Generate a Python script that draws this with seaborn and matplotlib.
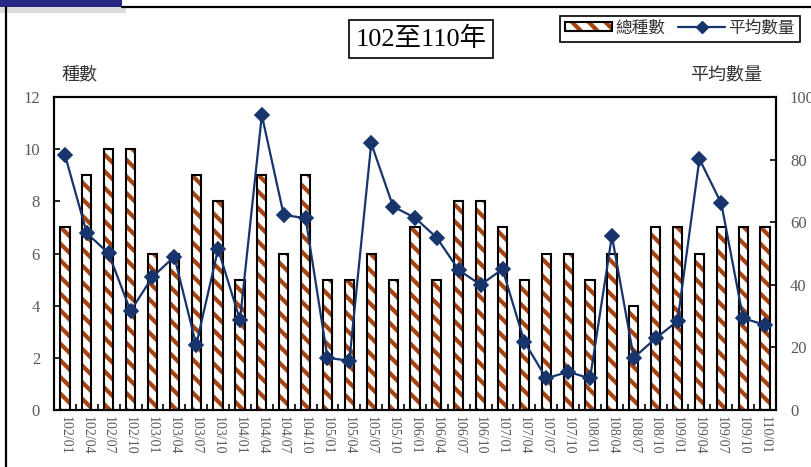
import numpy as np
import matplotlib.pyplot as plt
import seaborn as sns
from matplotlib.patches import Patch, Rectangle
from matplotlib.lines import Line2D
from matplotlib.legend_handler import HandlerTuple

# quarterly data, ROC years 102-110
quarters = ['102/01', '102/04', '102/07', '102/10',
            '103/01', '103/04', '103/07', '103/10',
            '104/01', '104/04', '104/07', '104/10',
            '105/01', '105/04', '105/07', '105/10',
            '106/01', '106/04', '106/07', '106/10',
            '107/01', '107/04', '107/07', '107/10',
            '108/01', '108/04', '108/07', '108/10',
            '109/01', '109/04', '109/07', '109/10',
            '110/01']
species_count = [7, 9, 10, 10, 6, 6, 9, 8, 5, 9, 6, 9, 5, 5, 6, 5, 7,
                 5, 8, 8, 7, 5, 6, 6, 5, 6, 4, 7, 7, 6, 7, 7, 7]
avg_quantity = [81.5, 56.5, 50.0, 31.6, 42.5, 49.0, 20.8, 51.4, 28.8,
                94.2, 62.3, 61.3, 16.7, 15.7, 85.2, 65.0, 61.4, 55.0,
                44.7, 40.0, 45.0, 21.8, 10.1, 12.2, 10.1, 55.6, 16.7,
                22.9, 28.4, 80.2, 66.0, 29.3, 27.2]

left_ticks = [0, 2, 4, 6, 8, 10, 12]
right_ticks = [0, 20, 40, 60, 80, 100]

sns.set_theme(style='white')
plt.rcParams['font.family'] = ['Liberation Serif', 'Noto Sans CJK TC']
plt.rcParams['hatch.linewidth'] = 3.0

BROWN = '#A8440F'
NAVY = '#17356C'
GRAY = '#595959'

fig = plt.figure(figsize=(8.12, 4.67), dpi=100)
ax = fig.add_axes([54 / 812, 1 - 410 / 467, 722 / 812, 313 / 467])

# hatched fill, then black outline on top
sns.barplot(x=quarters, y=species_count, color='white', edgecolor=BROWN,
            hatch='\\\\', linewidth=0, width=0.42, saturation=1, ax=ax)
sns.barplot(x=quarters, y=species_count, color='black', fill=False,
            linewidth=1.5, width=0.42, saturation=1, ax=ax)

ax2 = ax.twinx()
sns.pointplot(x=quarters, y=avg_quantity, color=NAVY, markers='D',
              markersize=7, linewidth=1.6, ax=ax2)

n = len(quarters)
ax.set_xlim(-0.5, n - 0.5)
ax.set_ylim(0, 12)
ax2.set_ylim(0, 100)
ax.set_xlabel('')
ax.set_ylabel('')
ax2.set_xlabel('')
ax2.set_ylabel('')

ax.set_yticks(left_ticks)
ax.set_yticklabels([str(t) for t in left_ticks], fontsize=12, color=GRAY)
ax.tick_params(axis='y', length=4, width=1.2, color='black', direction='in', pad=10)
ax2.set_yticks(right_ticks)
ax2.set_yticklabels([str(t) for t in right_ticks], fontsize=12, color=GRAY)
ax2.tick_params(axis='y', length=4, width=1.2, color='black', direction='in', pad=10)

ax.set_xticks(range(n))
ax.set_xticklabels(quarters, rotation=-90, fontsize=10, color=GRAY)
ax.tick_params(axis='x', which='major', length=0, pad=4)
ax.set_xticks(np.arange(0.5, n - 1, 1), minor=True)
ax.tick_params(axis='x', which='minor', length=4, width=1.2, color='black',
               direction='in', bottom=True)

for a in (ax, ax2):
    for s in a.spines.values():
        s.set_color('black')
        s.set_linewidth(1.5)

# axis captions
fig.text(80 / 812, 1 - 75 / 467, '種數', fontsize=13, color='#333333',
         ha='center', va='center')
fig.text(726 / 812, 1 - 75 / 467, '平均數量', fontsize=13, color='#333333',
         ha='center', va='center')

# boxed title
fig.text(421 / 812, 1 - 39 / 467, '102至110年', fontsize=19, color='black',
         ha='center', va='center',
         bbox=dict(boxstyle='square,pad=0.26', fc='white', ec='black', lw=1.2))

# legend
hatch_patch = Patch(facecolor='white', edgecolor=BROWN, hatch='\\\\', linewidth=0)
edge_patch = Patch(facecolor='none', edgecolor='black', linewidth=1.5)
line_handle = Line2D([], [], color=NAVY, marker='D', markersize=6, linewidth=1.6)
leg = fig.legend(handles=[(hatch_patch, edge_patch), line_handle],
                 labels=['總種數', '平均數量'],
                 handler_map={tuple: HandlerTuple(ndivide=1)},
                 loc='center', bbox_to_anchor=(680 / 812, 1 - 28.5 / 467),
                 ncol=2, fontsize=12, frameon=True, fancybox=False,
                 framealpha=1, edgecolor='black', handlelength=2.8,
                 handleheight=0.5, handletextpad=0.2, columnspacing=0.8,
                 borderpad=0.3)
leg.get_frame().set_linewidth(1.2)
for t in leg.get_texts():
    t.set_color('#333333')

# page frame decorations
fig.add_artist(Rectangle((0, 1 - 13 / 467), 126 / 812, 7 / 467,
                         transform=fig.transFigure, color='#BBBBBB',
                         alpha=0.5, lw=0))
fig.add_artist(Rectangle((0, 1 - 6.5 / 467), 122 / 812, 6.5 / 467,
                         transform=fig.transFigure, color='#262685', lw=0))
fig.add_artist(Line2D([122 / 812, 1], [1 - 6.5 / 467] * 2,
                      transform=fig.transFigure, color='black', lw=1.6))
fig.add_artist(Line2D([6 / 812] * 2, [0, 1 - 7 / 467],
                      transform=fig.transFigure, color='black', lw=1.6))

fig.savefig('out.png', dpi=100)
